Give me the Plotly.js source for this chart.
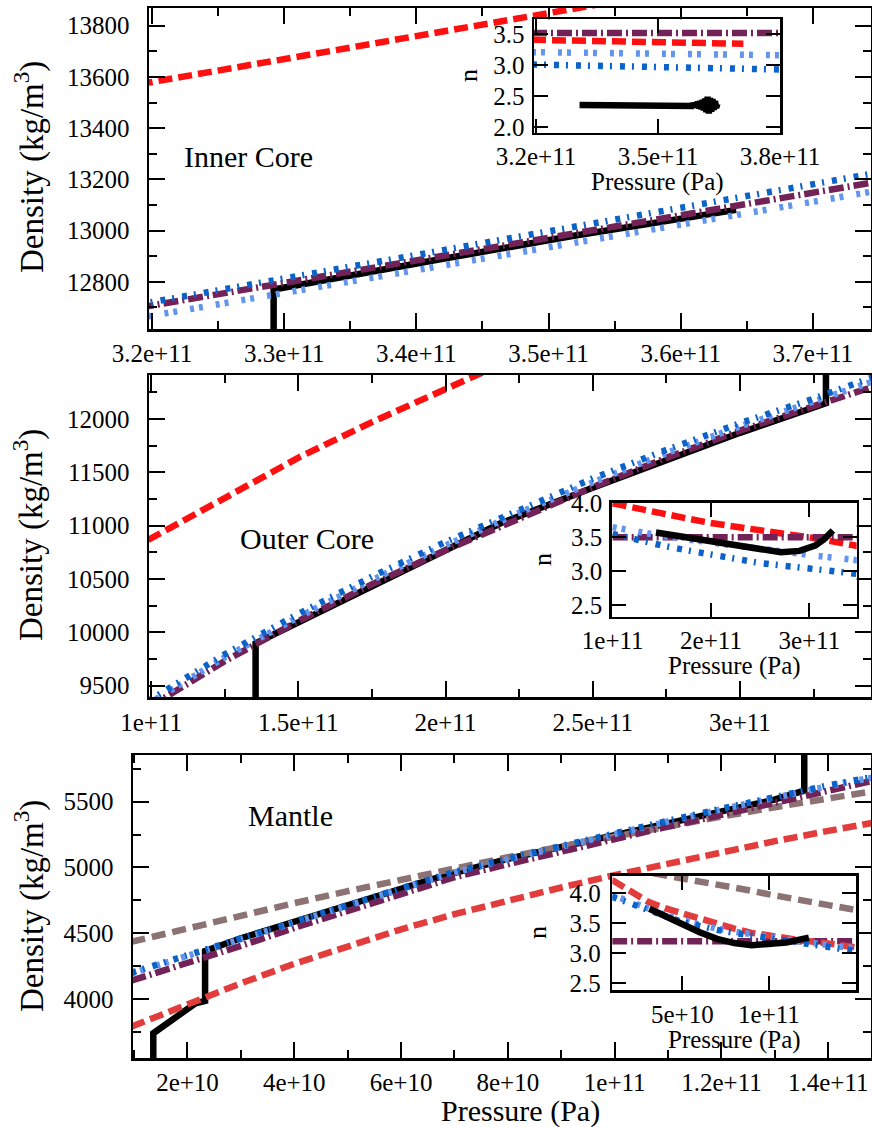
<!DOCTYPE html>
<html><head><meta charset="utf-8">
<script src="https://cdn.plot.ly/plotly-3.0.1.min.js"></script>
<style>html,body{margin:0;padding:0;background:#fff}</style>
</head><body><div id="chart" style="width:872px;height:1127px"></div>
<script>
// ---------------- DATA ----------------
// Reference density profile (black), pressure in Pa, density kg/m^3
const refP   = [1.36e10,1.36e10,2.15e10,2.33e10,2.33e10,3.0e10,3.8e10,5.0e10,6.74e10,8.0e10,9.86e10,11.5e10,12.99e10,13.55e10,13.55e10,15.0e10,17.5e10,20.0e10,21.87e10,25.0e10,28.67e10,30.0e10,32.92e10,32.92e10,34.18e10,35.18e10,36.42e10];
const refRho = [3540,3740,3968,3985,4365,4462,4563,4715,4930,5065,5234,5380,5515,5585,9897,10095,10430,10764,11022,11355,11740,11870,12147,12770,12888,12979,13081];

// Inner core fits
const icP        = [3.19e11,3.3e11,3.4e11,3.5e11,3.6e11,3.7e11,3.75e11];
const icRedP     = [3.19e11,3.3e11,3.4e11,3.5e11,3.6e11,3.71e11];
const icRed      = [13571,13668,13759,13849,13940,14039];
const icPurple   = [12699,12795,12883,12972,13060,13148,13192];
const icLight    = [12659,12756,12846,12935,13025,13113,13157];
const icBlue     = [12712,12812,12905,12998,13090,13182,13227];

// Outer core fits
const ocP        = [0.99e11,1.0e11,1.25e11,1.5e11,1.75e11,2.0e11,2.25e11,2.5e11,2.75e11,3.0e11,3.25e11,3.45e11];
const ocRedP     = [0.99e11,1.28e11,1.507e11,1.75e11,2.0e11,2.085e11,2.5e11,3.0e11,3.45e11];
const ocRed      = [10866,11303,11647,11970,12290,12397,12900,13450,13900];
const ocPurple   = [9293,9310,9730,10105,10450,10770,11070,11360,11635,11890,12120,12300];
const ocLight    = [9328,9345,9765,10143,10490,10815,11120,11405,11680,11930,12160,12350];
const ocBlue     = [9356,9373,9794,10173,10522,10847,11152,11441,11710,11960,12190,12390];

// Mantle fits
const mP         = [0.95e10,2e10,3e10,4e10,5e10,6e10,7e10,8e10,9e10,10e10,11e10,12e10,13e10,14e10,15e10];
const mBrown     = [4435,4539,4635,4729,4820,4908,4994,5078,5159,5237,5313,5387,5458,5527,5591];
const mRed       = [3790,3962,4120,4268,4405,4530,4645,4750,4848,4942,5032,5118,5200,5278,5352];
const mPurple    = [4140,4271,4404,4541,4672,4803,4926,5025,5124,5222,5311,5400,5491,5583,5675];
const mLight     = [4195,4328,4460,4593,4718,4843,4963,5062,5161,5258,5350,5442,5534,5619,5697];
const mBlue      = [4200,4333,4465,4598,4723,4848,4968,5067,5166,5263,5355,5447,5539,5624,5702];

// Inset 1 (inner core) n
const i1P        = [3.19e11,3.3e11,3.4e11,3.5e11,3.6e11,3.7e11,3.8e11];
const i1RedP     = [3.19e11,3.3e11,3.4e11,3.5e11,3.6e11,3.71e11];
const i1Red      = [3.41,3.40,3.39,3.375,3.36,3.345];
const i1Purple   = [3.52,3.52,3.52,3.52,3.52,3.52,3.52];
const i1Light    = [3.21,3.205,3.20,3.19,3.18,3.17,3.16];
const i1Blue     = [3.01,3.00,2.99,2.975,2.96,2.945,2.93];
const i1BlackP   = [3.307e11,3.33e11,3.36e11,3.39e11,3.42e11,3.45e11,3.48e11,3.51e11,3.54e11,3.56e11,3.575e11,3.580e11,3.583e11,3.586e11,3.589e11,3.592e11,3.595e11,3.598e11,3.601e11,3.604e11,3.607e11,3.610e11,3.613e11,3.616e11,3.619e11,3.622e11,3.625e11,3.628e11,3.631e11,3.634e11,3.637e11,3.640e11,3.643e11,3.646e11];
const i1Black    = [2.357,2.356,2.357,2.355,2.357,2.354,2.358,2.353,2.36,2.352,2.362,2.36,2.34,2.38,2.33,2.39,2.32,2.41,2.30,2.42,2.29,2.44,2.27,2.46,2.24,2.49,2.22,2.47,2.25,2.45,2.28,2.42,2.31,2.38];

// Inset 2 (outer core) n
const i2P        = [1.0e11,1.25e11,1.5e11,1.75e11,2.0e11,2.25e11,2.5e11,2.75e11,3.0e11,3.25e11,3.5e11];
const i2Red      = [4.00,3.92,3.85,3.78,3.71,3.65,3.60,3.55,3.50,3.44,3.37];
const i2Purple   = [3.5,3.5,3.5,3.5,3.5,3.5,3.5,3.5,3.5,3.5,3.5];
const i2Light    = [3.65,3.58,3.52,3.47,3.42,3.375,3.33,3.28,3.24,3.20,3.16];
const i2Blue     = [3.55,3.46,3.38,3.31,3.24,3.17,3.12,3.08,3.04,3.00,2.96];
const i2BlackP   = [1.44e11,1.75e11,2.0e11,2.25e11,2.5e11,2.71e11,2.9e11,3.06e11,3.15e11,3.24e11];
const i2Black    = [3.57,3.50,3.45,3.39,3.32,3.28,3.30,3.38,3.47,3.60];

// Inset 3 (mantle) n
const i3P        = [0.95e10,2e10,3e10,4e10,5e10,6e10,7e10,8e10,9e10,10e10,11e10,12e10,13e10,14e10,15e10];
const i3Brown    = [4.45,4.40,4.35,4.30,4.24,4.19,4.14,4.09,4.04,3.98,3.93,3.88,3.83,3.78,3.72];
const i3Red      = [4.22,4.02,3.86,3.75,3.66,3.58,3.49,3.41,3.34,3.29,3.25,3.21,3.18,3.14,3.10];
const i3Purple   = [3.2,3.2,3.2,3.2,3.2,3.2,3.2,3.2,3.2,3.2,3.2,3.2,3.2,3.2,3.2];
const i3Light    = [3.97,3.85,3.74,3.64,3.55,3.47,3.41,3.36,3.31,3.27,3.23,3.19,3.15,3.11,3.08];
const i3Blue     = [3.94,3.82,3.72,3.62,3.52,3.45,3.39,3.34,3.30,3.25,3.21,3.17,3.13,3.08,3.04];
const i3BlackP   = [3.1e10,4e10,5e10,6e10,7e10,8e10,9e10,10e10,11e10,12.3e10];
const i3Black    = [3.74,3.62,3.47,3.35,3.24,3.17,3.135,3.145,3.18,3.26];

// Tick labels
const x1Vals = [3.2e11,3.3e11,3.4e11,3.5e11,3.6e11,3.7e11];
const x1Text = ['3.2e+11','3.3e+11','3.4e+11','3.5e+11','3.6e+11','3.7e+11'];
const y1Vals = [12800,13000,13200,13400,13600,13800];
const y1Text = ['12800','13000','13200','13400','13600','13800'];
const x2Vals = [1e11,1.5e11,2e11,2.5e11,3e11];
const x2Text = ['1e+11','1.5e+11','2e+11','2.5e+11','3e+11'];
const y2Vals = [9500,10000,10500,11000,11500,12000];
const y2Text = ['9500','10000','10500','11000','11500','12000'];
const x3Vals = [2e10,4e10,6e10,8e10,1e11,1.2e11,1.4e11];
const x3Text = ['2e+10','4e+10','6e+10','8e+10','1e+11','1.2e+11','1.4e+11'];
const y3Vals = [4000,4500,5000,5500];
const y3Text = ['4000','4500','5000','5500'];
const xi1Vals = [3.2e11,3.5e11,3.8e11];
const xi1Text = ['3.2e+11','3.5e+11','3.8e+11'];
const yi1Vals = [2.0,2.5,3.0,3.5];
const yi1Text = ['2.0','2.5','3.0','3.5'];
const xi2Vals = [1e11,2e11,3e11];
const xi2Text = ['1e+11','2e+11','3e+11'];
const yi2Vals = [2.5,3.0,3.5,4.0];
const yi2Text = ['2.5','3.0','3.5','4.0'];
const xi3Vals = [5e10,1e11];
const xi3Text = ['5e+10','1e+11'];
const yi3Vals = [2.5,3.0,3.5,4.0];
const yi3Text = ['2.5','3.0','3.5','4.0'];

// ---------------- STYLE / LAYOUT ----------------
const W = 872, H = 1127;
const FONT = 'Liberation Serif, Times New Roman, serif';
const fx = p => p / W;
const fy = p => 1 - p / H;

const C = {
  red: '#ff1010', red2: '#e23c3c', brown: '#8c7272',
  purple: '#722257', light: '#6495ed', blue: '#0b62c9', black: '#000000'
};
const D = {
  red: '14px,6px', brown: '14px,7px',
  purple: '15px,4px,2px,4px',
  light: '4px,5px,4px,13px',
  blue: '5px,7px,2px,8px'
};
const LW = 6.5;

function axis(dom, range, vals, text, minor, extra) {
  const a = {
    domain: dom, range: range, tickmode: 'array', tickvals: vals, ticktext: text,
    ticks: 'inside', ticklen: 16, tickwidth: 2, tickcolor: '#000',
    showline: true, linewidth: 2.5, linecolor: '#000', mirror: 'allticks',
    showgrid: false, zeroline: false, fixedrange: true,
    tickfont: {family: FONT, size: 25, color: '#000'}
  };
  if (minor) a.minor = {tickmode: 'linear', tick0: minor[0], dtick: minor[1], ticks: 'inside', ticklen: 8, tickwidth: 2, tickcolor: '#000', showgrid: false};
  return Object.assign(a, extra || {});
}

function ln(x, y, xa, ya, color, width, dash) {
  return {x: x, y: y, xaxis: xa, yaxis: ya, type: 'scatter', mode: 'lines',
          line: {color: color, width: width, dash: dash || 'solid'}, hoverinfo: 'skip', showlegend: false};
}

const traces = [
  // Inner core
  ln(refP, refRho, 'x', 'y', C.black, LW),
  ln(icRedP, icRed, 'x', 'y', C.red, LW, D.red),
  ln(icP, icPurple, 'x', 'y', C.purple, LW, D.purple),
  ln(icP, icLight, 'x', 'y', C.light, LW, D.light),
  ln(icP, icBlue, 'x', 'y', C.blue, LW, D.blue),
  // Outer core
  ln(refP, refRho, 'x2', 'y2', C.black, LW),
  ln(ocRedP, ocRed, 'x2', 'y2', C.red, LW, D.red),
  ln(ocP, ocPurple, 'x2', 'y2', C.purple, LW, D.purple),
  ln(ocP, ocLight, 'x2', 'y2', C.light, LW, D.light),
  ln(ocP, ocBlue, 'x2', 'y2', C.blue, LW, D.blue),
  // Mantle
  ln(refP, refRho, 'x3', 'y3', C.black, LW),
  ln(mP, mBrown, 'x3', 'y3', C.brown, LW, D.brown),
  ln(mP, mRed, 'x3', 'y3', C.red2, LW, D.red),
  ln(mP, mPurple, 'x3', 'y3', C.purple, LW, D.purple),
  ln(mP, mLight, 'x3', 'y3', C.light, LW, D.light),
  ln(mP, mBlue, 'x3', 'y3', C.blue, LW, D.blue),
  // Inset 1
  ln(i1P, i1Purple, 'x4', 'y4', C.purple, LW, D.purple),
  ln(i1RedP, i1Red, 'x4', 'y4', C.red, LW, D.red),
  ln(i1P, i1Light, 'x4', 'y4', C.light, LW, D.light),
  ln(i1P, i1Blue, 'x4', 'y4', C.blue, LW, D.blue),
  ln(i1BlackP, i1Black, 'x4', 'y4', C.black, LW),
  // Inset 2
  ln(i2P, i2Red, 'x5', 'y5', C.red, LW, D.red),
  ln(i2P, i2Purple, 'x5', 'y5', C.purple, LW, D.purple),
  ln(i2P, i2Light, 'x5', 'y5', C.light, LW, D.light),
  ln(i2P, i2Blue, 'x5', 'y5', C.blue, LW, D.blue),
  ln(i2BlackP, i2Black, 'x5', 'y5', C.black, LW),
  // Inset 3
  ln(i3P, i3Brown, 'x6', 'y6', C.brown, LW, D.brown),
  ln(i3P, i3Purple, 'x6', 'y6', C.purple, LW, D.purple),
  ln(i3P, i3Red, 'x6', 'y6', C.red2, LW, D.red),
  ln(i3P, i3Light, 'x6', 'y6', C.light, LW, D.light),
  ln(i3P, i3Blue, 'x6', 'y6', C.blue, LW, D.blue),
  ln(i3BlackP, i3Black, 'x6', 'y6', C.black, LW)
];

function ann(text, xpx, ypx, size, angle) {
  return {text: text, xref: 'paper', yref: 'paper', x: fx(xpx), y: fy(ypx),
          xanchor: 'center', yanchor: 'middle', showarrow: false, textangle: angle || 0,
          font: {family: FONT, size: size, color: '#000'}};
}

const layout = {
  width: W, height: H, margin: {l: 0, r: 0, t: 0, b: 0, pad: 0},
  paper_bgcolor: '#fff', plot_bgcolor: '#fff', showlegend: false,
  font: {family: FONT, color: '#000'},
  xaxis:  axis([fx(149), fx(871)], [3.1977e11, 3.744e11], x1Vals, x1Text, [3.2e11, 5e9], {anchor: 'y', ticklabelstandoff: 0}),
  yaxis:  axis([fy(329), fy(8)], [12616, 13869], y1Vals, y1Text, [12800, 100], {anchor: 'x', ticklabelstandoff: 12}),
  xaxis2: axis([fx(149), fx(871)], [0.993e11, 3.445e11], x2Vals, x2Text, [1e11, 2.5e10], {anchor: 'y2', ticklabelstandoff: 1}),
  yaxis2: axis([fy(697), fy(375)], [9394, 12412], y2Vals, y2Text, [9500, 250], {anchor: 'x2', ticklabelstandoff: 12}),
  xaxis3: axis([fx(133), fx(871)], [0.98e10, 1.48e11], x3Vals, x3Text, [0, 1e10], {anchor: 'y3', ticklabelstandoff: 0}),
  yaxis3: axis([fy(1058), fy(755)], [3552, 5855], y3Vals, y3Text, [4000, 250], {anchor: 'x3', ticklabelstandoff: 12}),
  xaxis4: axis([fx(534), fx(780)], [3.195e11, 3.8e11], xi1Vals, xi1Text, null, {anchor: 'y4', ticklen: 14, ticklabelstandoff: 0}),
  yaxis4: axis([fy(132.7), fy(19.3)], [1.91, 3.74], yi1Vals, yi1Text, null, {anchor: 'x4', ticklen: 14, ticklabelstandoff: 2}),
  xaxis5: axis([fx(611.7), fx(856.7)], [0.99e11, 3.482e11], xi2Vals, xi2Text, null, {anchor: 'y5', ticklen: 14, ticklabelstandoff: 0}),
  yaxis5: axis([fy(616.7), fy(502.7)], [2.33, 4.01], yi2Vals, yi2Text, null, {anchor: 'x5', ticklen: 14, ticklabelstandoff: 2}),
  xaxis6: axis([fx(612.3), fx(856)], [0.96e10, 1.502e11], xi3Vals, xi3Text, null, {anchor: 'y6', ticklen: 14, ticklabelstandoff: 0}),
  yaxis6: axis([fy(990), fy(875.7)], [2.39, 4.29], yi3Vals, yi3Text, null, {anchor: 'x6', ticklen: 14, ticklabelstandoff: 4}),
  annotations: [
    ann('Inner Core', 249, 156, 30),
    ann('Outer Core', 307, 538, 30),
    ann('Mantle', 290, 815, 30),
    ann('Density (kg/m<sup>3</sup>)', 29, 167, 33, -90),
    ann('Density (kg/m<sup>3</sup>)', 29, 535, 33, -90),
    ann('Density (kg/m<sup>3</sup>)', 29, 906, 33, -90),
    ann('Pressure (Pa)', 520, 1111, 30),
    ann('n', 469, 76, 26, -90),
    ann('Pressure (Pa)', 657, 182, 25),
    ann('n', 542, 560, 26, -90),
    ann('Pressure (Pa)', 734, 666, 25),
    ann('n', 537, 933, 26, -90),
    ann('Pressure (Pa)', 734, 1040, 25)
  ]
};

Plotly.newPlot('chart', traces, layout, {staticPlot: true, displayModeBar: false});
</script>
</body></html>
